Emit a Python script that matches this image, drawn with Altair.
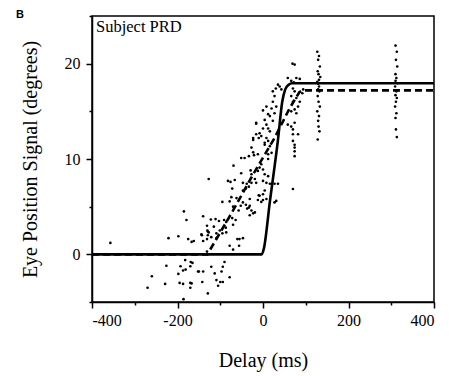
import altair as alt
import pandas as pd

# ---- data ----
pts_x = [-357, -185, -179, -221, -198, -175, -167, -162, -140, -131, -129, -143, -131, -140, -131,
         -226, -260, -270, -229, -182, -165, -193, -187, -181, -170, -198, -150, -140, -195, -187,
         -170, -170, -142, -129, -186, -105,
         -127, -121, -109, -109, -78, -70, -60, -55, -47, -56, -169, -152, -121, -113, -94, -90, -97,
         -109, -100, -94, -78, -167,
         -16, -4, -10, -23, -27, -23, -33, -21, -43, -51, -12, -69, -51, -29, -127, -82, -76, -66, -47,
         -38, -27, -33, -40, -72, -74, -62, -47, -10, -12, 0, -4, -95, -78, -70, -52, -47, -40, -33,
         -23, -37, -57, -122, -111, -103, -91, -86, -72, -64, -70, -87, -130, -115, -101, -144, -129,
         -95, -86,
         69, 74, 58, 78, 86, 66, 72, 35, 30, 39, 43, 23, 70, 74, 94, 92, 66, 78, 70, 86, 82, 74, 66, 78,
         27, 23, 31, 20, 27, 16, 23, 58, 66, 74, 70, 8, 0, 12, 4, 8, 12, 16, -16, -23, -16, -8, 0, 8, 12,
         4, 16, 70, 82, 70, 74,
         4, 12, 20, 12, -4, -8, 0, -12, 4, 12, -27, -19, -16, 0, 8, 16, 27, 35, 4, 0, -8, 8, 27, 31, -31,
         -31, -19, -27, -31, 70, 74, 74, 74,
         127, 131, 129, 133, 128, 130, 134, 127, 131, 129, 132, 128, 130, 133, 127, 131, 129, 130, 132,
         128, 131, 129,
         310, 313, 311, 314, 310, 312, 315, 309, 312, 310, 313, 311, 309, 312, 310, 311, 313, 310]
pts_y = [1.2, 4.5, 3.6, 1.7, 1.9, 1.6, 1.3, 1.4, 4.0, 3.0, 2.4, 2.0, 1.6, 1.4, 0.3,
         -1.2, -2.3, -3.5, -3.1, -0.6, -0.9, -1.25, -1.7, -1.6, -1.25, -2.05, -1.8, -1.8, -3.0, -3.1,
         -3.0, -3.5, -2.9, -4.1, -4.7, -3.3,
         2.3, 1.8, 2.2, 1.7, 0.9, 0.5, 1.6, 1.6, 1.7, 0.9, -0.8, -1.8, -1.3, -2.0, -1.3, -0.8, -1.8,
         -2.7, -2.9, -2.9, -2.4, -3.05,
         13.7, 12.4, 12.2, 12.0, 11.2, 10.7, 10.3, 10.4, 10.1, 10.1, 10.5, 9.3, 8.5, 8.8, 7.9, 7.7, 7.6,
         7.8, 7.5, 7.4, 7.5, 7.1, 6.9, 6.9, 6.0, 5.9, 6.7, 6.2, 5.7, 5.7, 5.5, 5.5, 5.55, 5.0, 5.1, 5.45,
         5.2, 4.9, 4.3, 4.8, 4.6, 3.65, 3.7, 3.5, 3.6, 3.4, 3.8, 3.6, 3.1, 2.8, 2.5, 2.9, 2.5, 2.1, 2.0,
         2.2, 2.3,
         20.0, 19.9, 18.5, 18.5, 18.4, 18.2, 18.05, 17.8, 17.4, 17.6, 17.3, 17.1, 17.4, 17.1, 17.3, 16.9,
         16.6, 16.4, 16.0, 16.0, 15.5, 15.2, 15.0, 14.8, 16.6, 16.0, 15.5, 15.3, 14.8, 14.5, 14.0, 13.6,
         13.4, 13.8, 13.1, 15.5, 15.1, 14.7, 14.1, 13.6, 13.2, 12.9, 13.8, 12.2, 12.6, 12.7, 13.2, 12.2,
         11.9, 11.7, 11.35, 12.6, 12.6, 11.9, 11.2,
         11.5, 10.5, 10.65, 10.0, 9.45, 9.1, 8.9, 8.75, 8.4, 8.2, 8.4, 7.9, 7.5, 7.7, 7.5, 7.4, 7.4, 7.4,
         6.7, 6.3, 6.15, 5.8, 5.45, 5.6, 5.8, 5.1, 4.4, 4.6, 4.1, 6.85, 11.5, 10.8, 10.3,
         21.25, 20.8, 20.4, 19.7, 19.2, 18.9, 18.6, 18.1, 17.6, 17.3, 17.1, 16.6, 16.0, 15.5, 15.0, 14.5,
         14.0, 13.4, 12.9, 12.05, 18.3, 17.9,
         21.9, 21.25, 20.4, 19.7, 18.9, 18.5, 17.95, 17.6, 17.1, 16.7, 16.4, 16.0, 15.5, 14.8, 14.3,
         13.1, 12.3, 18.2]

solid_x = [-400, -3, 2, 16, 35, 45, 52, 60, 68, 400]
solid_y = [0, 0, 0.6, 5.5, 12.0, 16.0, 17.3, 17.8, 17.95, 17.95]
dashed_x = [-400, -130, -70, -23, 27, 62, 85, 92, 400]
dashed_y = [0, 0, 4.6, 8.4, 12.2, 15.3, 17.0, 17.2, 17.2]

panel_label = ["B"]
subject_label = ["Subject PRD"]
x_ticks = [-400, -300, -200, -100, 0, 100, 200, 300, 400]
y_ticks = [-5, 0, 5, 10, 15, 20, 25]
x_title = "Delay (ms)"
y_title = "Eye Position Signal (degrees)"

W, H = 342, 286
SERIF = "Liberation Serif"

df_pts = pd.DataFrame({"x": pts_x, "y": pts_y})
df_solid = pd.DataFrame({"x": solid_x, "y": solid_y})
df_dashed = pd.DataFrame({"x": dashed_x, "y": dashed_y})

xs = alt.Scale(domain=[-400, 400], nice=False, zero=False)
ys = alt.Scale(domain=[-5, 25], nice=False, zero=False)

x_axis = alt.Axis(values=x_ticks, title=x_title, grid=False,
                  labelExpr="datum.value % 200 === 0 ? '' + datum.value : ''",
                  tickSize={"condition": {"test": "datum.value % 200 === 0", "value": 6}, "value": 3},
                  labelFont=SERIF, labelFontSize=16, labelColor="black",
                  titleFont=SERIF, titleFontSize=20, titleFontWeight="normal", titleColor="black",
                  labelPadding=4, titleY=48, titleBaseline="top")
y_axis = alt.Axis(values=y_ticks, title=y_title, grid=False,
                  labelExpr="datum.value % 10 === 0 ? '' + datum.value : ''",
                  tickSize={"condition": {"test": "datum.value % 10 === 0", "value": 6}, "value": 3},
                  labelFont=SERIF, labelFontSize=16, labelColor="black",
                  titleFont=SERIF, titleFontSize=20, titleFontWeight="normal", titleColor="black",
                  labelPadding=6, titleX=-52, titleY=H / 2)

X = alt.X("x:Q", scale=xs, axis=x_axis)
Y = alt.Y("y:Q", scale=ys, axis=y_axis)

points = alt.Chart(df_pts).mark_circle(size=7, color="black", opacity=1).encode(x=X, y=Y)
solid = alt.Chart(df_solid).mark_line(color="black", strokeWidth=2.6, interpolate="monotone").encode(x=X, y=Y)
dashed = alt.Chart(df_dashed).mark_line(color="black", strokeWidth=2.6, strokeDash=[7, 4]).encode(x=X, y=Y)

subj = alt.Chart(pd.DataFrame({"t": subject_label})).mark_text(
    font=SERIF, fontSize=16.5, align="left", baseline="alphabetic", color="black"
).encode(x=alt.value(4), y=alt.value(16), text="t:N")

blabel = alt.Chart(pd.DataFrame({"t": panel_label})).mark_text(
    font="Liberation Sans", fontSize=11, fontWeight="bold", align="center", baseline="middle", color="black"
).encode(x=alt.value(-72), y=alt.value(-1.5), text="t:N")

chart = alt.layer(dashed, solid, points, subj, blabel).properties(
    width=W, height=H,
    autosize=alt.AutoSizeParams(type="none"),
    padding={"left": 84, "top": 8, "right": 7, "bottom": 72},
).configure(
    font=SERIF
).configure_view(
    stroke="black", strokeWidth=1.5
).configure_axis(
    domainColor="black", domainWidth=1.5, tickColor="black", tickWidth=1.5,
    labelFont=SERIF, labelFontSize=16, labelColor="black",
    titleFont=SERIF, titleFontSize=20, titleFontWeight="normal", titleColor="black",
)

chart.save("out.html", embed_options={"renderer": "svg", "actions": False})
